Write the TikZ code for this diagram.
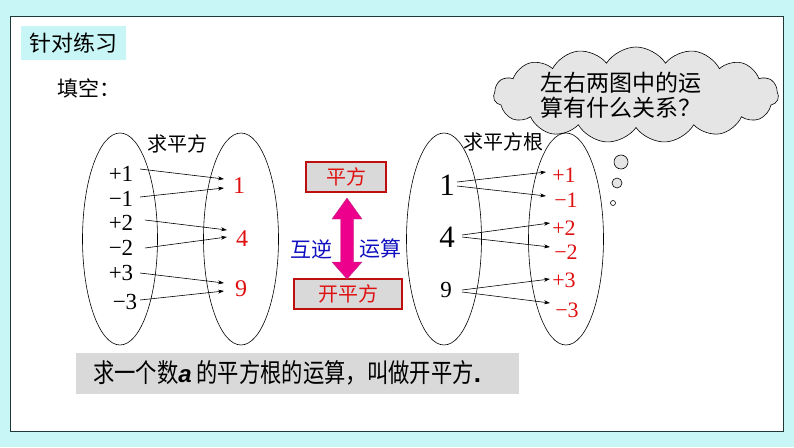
\documentclass[tikz,border=0pt]{standalone}
\usepackage{fontspec}
\usetikzlibrary{shapes.geometric,shapes.symbols,arrows.meta}
\newfontfamily\cjk{Noto Sans CJK SC}
\newfontfamily\cjkn[FakeStretch=0.82]{Noto Sans CJK SC}
\newfontfamily\tnr{Liberation Serif}
\newfontfamily\lsans{Liberation Sans}
\definecolor{bgcyan}{HTML}{C8F5F5}
\definecolor{framec}{HTML}{1F3838}
\definecolor{boxgray}{HTML}{D9D9D9}
\definecolor{redtxt}{HTML}{E01010}
\definecolor{bluetxt}{HTML}{1010C0}
\tikzset{
  oval/.style={draw, ellipse, line width=0.6pt, minimum width=75pt, minimum height=212pt, inner sep=0pt},
  numL/.style={font=\tnr\fontsize{23}{25}\selectfont, inner sep=0pt},
  numR/.style={font=\tnr\fontsize{22}{24}\selectfont, text=redtxt, inner sep=0pt},
  numRb/.style={font=\tnr\fontsize{24}{26}\selectfont, text=redtxt, inner sep=0pt},
  numB/.style={font=\tnr\fontsize{31}{33}\selectfont, inner sep=0pt},
  cjkt/.style={font=\cjk\fontsize{20}{22}\selectfont, inner sep=0pt},
  arr/.style={-{Stealth[length=6pt,width=4pt]}, line width=0.6pt},
  opbox/.style={draw=redtxt!85!black, line width=1.1pt, fill=boxgray, text=redtxt, font=\cjk\fontsize{20}{22}\selectfont, inner sep=0pt}
}
\begin{document}
\begin{tikzpicture}[x=1pt,y=-1pt]
\useasboundingbox (0,0) rectangle (794,447);
\fill[bgcyan] (0,0) rectangle (794,447);
\draw[framec, fill=white, line width=0.8pt] (10,16) rectangle (783,431);
% title
\node[fill=bgcyan, minimum width=105pt, minimum height=34pt, inner sep=0pt] (title) at (73.5,43) {};
\node[font=\cjk\fontsize{22}{24}\selectfont, inner sep=0pt] (titletxt) at (73.5,43) {针对练习};
\node[font=\cjk\fontsize{21}{23}\selectfont, anchor=west, inner sep=0pt] (fill) at (57,88) {填空：};
% cloud
\node[cloud, cloud puffs=15, cloud puff arc=115, aspect=3.2, draw, line width=0.6pt, fill=gray!20, minimum width=285pt, minimum height=96pt, inner sep=0pt] (cloud) at (636,95) {};
\node[font=\cjk\fontsize{23}{25}\selectfont, inner sep=0pt, anchor=west] (q1) at (540,83) {左右两图中的运};
\node[font=\cjk\fontsize{23}{25}\selectfont, inner sep=0pt, anchor=west] (q2) at (540,108) {算有什么关系？};
\node[draw, circle, fill=gray!20, line width=0.6pt, minimum size=14pt, inner sep=0pt] (b1) at (621,162) {};
\node[draw, circle, fill=gray!20, line width=0.6pt, minimum size=10pt, inner sep=0pt] (b2) at (617,183) {};
\node[draw, circle, fill=white, line width=0.6pt, minimum size=5pt, inner sep=0pt] (b3) at (613,203) {};
% left diagram
\node[oval] (e1) at (120,239) {};
\node[oval] (e2) at (241,239) {};
\node[cjkt] (h1) at (177,144) {求平方};
\node[numL] (l1) at (121,174) {+1};
\node[numL] (l2) at (121,199) {−1};
\node[numL] (l3) at (121,223) {+2};
\node[numL] (l4) at (121,248) {−2};
\node[numL] (l5) at (121,273) {+3};
\node[numL] (l6) at (125,302) {−3};
\node[numRb] (r1) at (239,186) {1};
\node[numRb] (r4) at (242,239) {4};
\node[numRb] (r9) at (241,289) {9};
\coordinate (f1) at (140,169); \coordinate (t1a) at (224,179);
\coordinate (f2) at (140,197); \coordinate (t1b) at (224,188);
\coordinate (f3) at (145,220); \coordinate (t4a) at (227,230);
\coordinate (f4) at (145,248); \coordinate (t4b) at (227,237);
\coordinate (f5) at (140,273); \coordinate (t9a) at (224,283);
\coordinate (f6) at (140,300); \coordinate (t9b) at (224,291);
\draw[arr] (f1) -- (t1a);
\draw[arr] (f2) -- (t1b);
\draw[arr] (f3) -- (t4a);
\draw[arr] (f4) -- (t4b);
\draw[arr] (f5) -- (t9a);
\draw[arr] (f6) -- (t9b);
% middle
\node[opbox, minimum width=80pt, minimum height=30pt] (sq) at (346,177) {平方};
\node[opbox, minimum width=108pt, minimum height=30pt] (sqrt) at (348,294) {开平方};
\coordinate (dtop) at (347,198);
\coordinate (dbot) at (347,279);
\fill[magenta, draw=magenta!75!black, line width=0.4pt]
  (dtop) -- ++(15,21) -- ++(-8.5,0) -- ++(0,43) -- ++(8.5,0) -- (dbot)
  -- ++(-15,-17) -- ++(8.5,0) -- ++(0,-43) -- ++(-8.5,0) -- cycle;
\node[font=\cjk\fontsize{21}{23}\selectfont, text=bluetxt, inner sep=0pt] (hn) at (311,249) {互逆};
\node[font=\cjk\fontsize{21}{23}\selectfont, text=bluetxt, inner sep=0pt] (ys) at (380,249) {运算};
% right diagram
\node[oval] (e3) at (444,239) {};
\node[oval] (e4) at (566,239) {};
\node[cjkt] (h2) at (503,142) {求平方根};
\node[numB] (s1) at (447,185) {1};
\node[numB] (s4) at (447,237) {4};
\node[numL] (s9) at (446,290) {9};
\node[numR] (p1) at (564,175) {+1};
\node[numR] (p2) at (566,200) {−1};
\node[numR] (p3) at (564,228) {+2};
\node[numR] (p4) at (566,252) {−2};
\node[numR] (p5) at (564,280) {+3};
\node[numR] (p6) at (567,310) {−3};
\coordinate (g1) at (457,182); \coordinate (u1) at (546,172);
\coordinate (g2) at (457,186); \coordinate (u2) at (546,196);
\coordinate (g3) at (462,235); \coordinate (u3) at (550,223);
\coordinate (g4) at (462,237); \coordinate (u4) at (550,247);
\coordinate (g5) at (462,290); \coordinate (u5) at (550,279);
\coordinate (g6) at (462,292); \coordinate (u6) at (550,303);
\draw[arr] (g1) -- (u1);
\draw[arr] (g2) -- (u2);
\draw[arr] (g3) -- (u3);
\draw[arr] (g4) -- (u4);
\draw[arr] (g5) -- (u5);
\draw[arr] (g6) -- (u6);
% bottom statement
\node[fill=boxgray, minimum width=443pt, minimum height=41pt, inner sep=0pt] (stmt) at (297.5,373.5) {};
\node[font=\cjkn\fontsize{26}{28}\selectfont, anchor=west, inner sep=0pt] (stmttxt) at (93,373) {求一个数{\lsans\bfseries\itshape\fontsize{24}{26}\selectfont a} 的平方根的运算，叫做开平方{\lsans\bfseries .}};
\end{tikzpicture}
\end{document}
